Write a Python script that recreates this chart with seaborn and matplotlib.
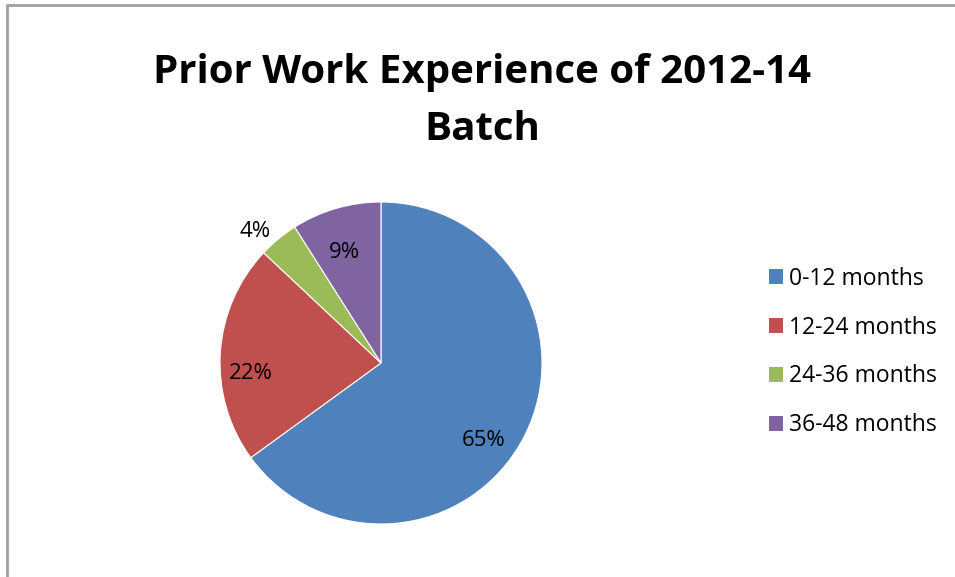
import numpy as np
import matplotlib.pyplot as plt
import seaborn as sns
from matplotlib.lines import Line2D
from matplotlib.patches import Patch

# data
categories = ["0-12 months", "12-24 months", "24-36 months", "36-48 months"]
shares = [65, 22, 4, 9]
colors = ["#4F81BD", "#C0504D", "#9BBB59", "#8064A2"]
title = "Prior Work Experience of 2012-14\nBatch"

sns.set_theme(style="white")
plt.rcParams["font.family"] = ["Open Sans", "DejaVu Sans"]
plt.rcParams["text.color"] = "black"

W, H = 955, 577
fig = plt.figure(figsize=(W / 100, H / 100), dpi=100)

# pie axes: centre ~ (381, 363) px, radius ~161 px
cx, cy, r = 381, 363, 161
ax = fig.add_axes([(cx - r) / W, (H - cy - r) / H, 2 * r / W, 2 * r / H])
wedges, texts = ax.pie(shares, colors=colors, startangle=90, counterclock=False,
                       wedgeprops=dict(linewidth=0.8, edgecolor="white"))
ax.set_xlim(-1, 1)
ax.set_ylim(-1, 1)
ax.set_aspect("equal")
ax.axis("off")

# percentage labels, Excel "best fit" style
label_r = [0.80, 0.81, 1.13, 0.72]
label_shift = [-10, 8, 4, 2]  # degrees
for w, s, lr, sh in zip(wedges, shares, label_r, label_shift):
    ang = np.deg2rad((w.theta1 + w.theta2) / 2 + sh)
    ax.text(lr * np.cos(ang), lr * np.sin(ang), f"{s}%", ha="center", va="center",
            fontsize=16, color="black")

fig.text(482 / W, 1 - 101 / H, title, ha="center", va="center", fontsize=29,
         fontweight="bold", linespacing=1.59, color="black")

handles = [Patch(facecolor=c, edgecolor="none") for c in colors]
fig.legend(handles, categories, loc="center left", bbox_to_anchor=(769 / W, 1 - 352 / H),
           frameon=False, fontsize=16.5, handlelength=0.62, handleheight=0.62,
           handletextpad=0.25, labelspacing=1.09, borderpad=0, borderaxespad=0,
           labelcolor="black")

# chart border (left and top visible)
fig.add_artist(Line2D([7 / W, 7 / W], [0, 1 - 5 / H], color="#A0A0A0", lw=2))
fig.add_artist(Line2D([7 / W, 1], [1 - 5 / H, 1 - 5 / H], color="#A0A0A0", lw=2))

fig.savefig("out.png", dpi=100)
